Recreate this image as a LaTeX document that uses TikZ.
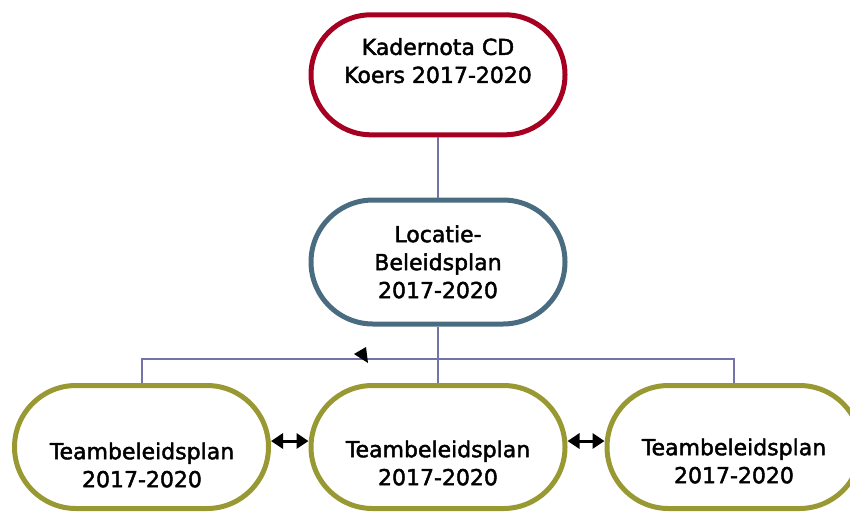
\documentclass[tikz,border=0pt]{standalone}
\usepackage{fontspec}
\setmainfont{DejaVu Sans}[FakeBold=2,AutoFakeBold=2]
\usetikzlibrary{shapes.misc,arrows.meta}
\definecolor{kred}{RGB}{165,0,33}
\definecolor{kslate}{RGB}{74,108,128}
\definecolor{kolive}{RGB}{153,153,51}
\definecolor{kline}{RGB}{115,115,170}
\tikzset{
  pill/.style={rounded rectangle, draw, line width=5pt, fill=white, inner sep=0pt,
    minimum width=254pt, minimum height=#1},
  lbl/.style={align=center, inner sep=0pt, font=\fontsize{22}{28}\selectfont\bfseries},
  conn/.style={draw=kline, line width=1.8pt},
  dbl/.style={{Triangle[length=12pt,width=15pt]}-{Triangle[length=12pt,width=15pt]}, line width=3pt, black}
}
\begin{document}
\begin{tikzpicture}[x=1pt,y=-1pt]
\clip (0,0) rectangle (850,512);
\fill[white] (0,0) rectangle (850,512);
% shapes
\node[pill=120pt, draw=kred] (top) at (438,74.8) {};
\node[pill=124pt, draw=kslate] (mid) at (438,262) {};
\node[pill=123pt, draw=kolive] (b1) at (141.5,447) {};
\node[pill=123pt, draw=kolive] (b2) at (438,447) {};
\node[pill=123pt, draw=kolive] (b3) at (734,447) {};
% connectors
\coordinate (hl) at (142,359);
\coordinate (hr) at (734,359);
\draw[conn] (top.south) -- (mid.north);
\draw[conn] (mid.south) -- (b2.north);
\draw[conn] (b1.north -| hl) -- (hl) -- (hr) -- (b3.north -| hr);
\fill[black] (354,354) -- (366,347) -- (368,363) -- cycle;
\draw[dbl] ([yshift=6pt]b1.east) -- ([yshift=6pt]b2.west);
\draw[dbl] ([yshift=6pt]b2.east) -- ([yshift=6pt]b3.west);
% texts
\node[lbl] (ttop) at (438,60.7) {Kadernota CD\\Koers 2017-2020};
\node[lbl] (tmid) at (438,261.9) {Locatie-\\Beleidsplan\\2017-2020};
\node[lbl] (tb1) at (142,465) {Teambeleidsplan\\2017-2020};
\node[lbl] (tb2) at (438,463) {Teambeleidsplan\\2017-2020};
\node[lbl] (tb3) at (734,461) {Teambeleidsplan\\2017-2020};
\end{tikzpicture}
\end{document}
